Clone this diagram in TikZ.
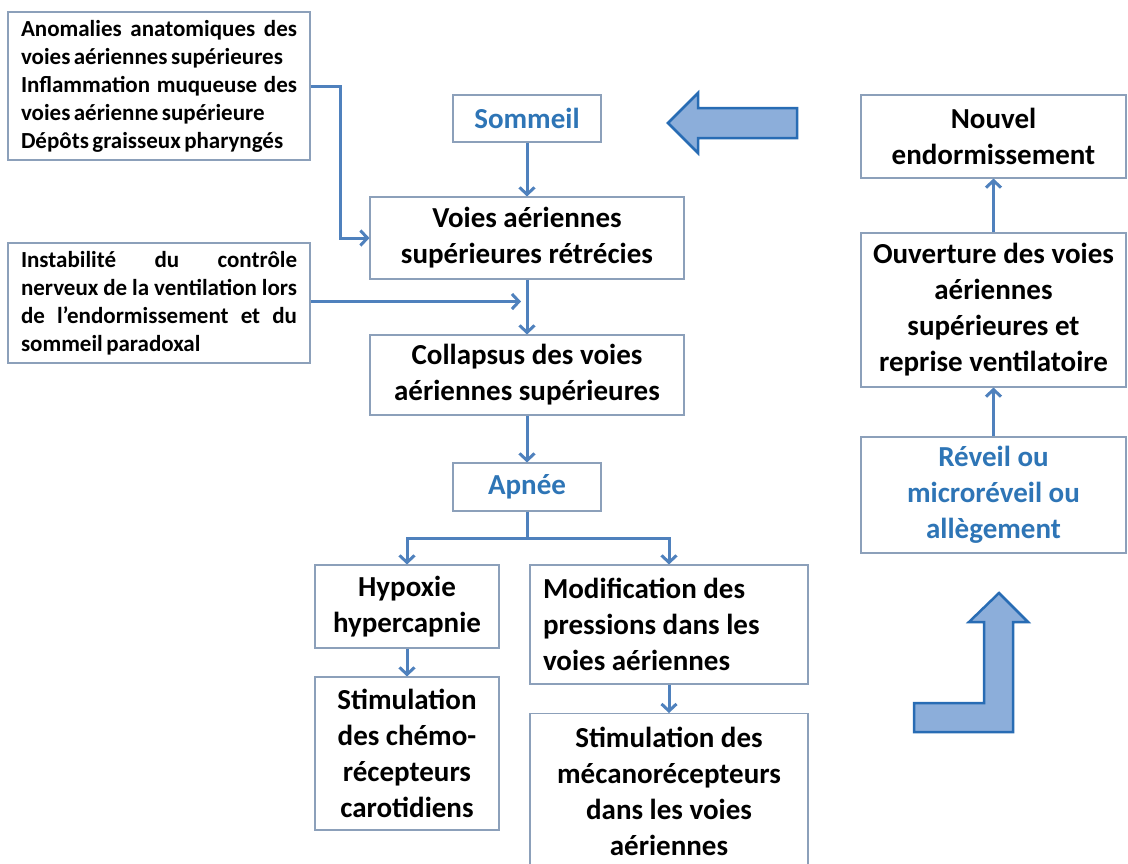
\documentclass[tikz,border=0pt]{standalone}
\usepackage{fontspec}
\setmainfont{Carlito}
\usepackage{xcolor}
\usetikzlibrary{arrows.meta, calc, positioning}
\definecolor{linkblue}{RGB}{79,129,189}
\definecolor{textblue}{RGB}{46,117,182}
\definecolor{boxgray}{RGB}{140,160,186}
\definecolor{blockfill}{RGB}{140,174,218}
\definecolor{blockedge}{RGB}{40,108,180}
\newcommand{\sidefont}{\bfseries\fontsize{23}{28}\selectfont\spaceskip=0.15em plus 3em minus 0.05em\relax}

\begin{document}
\begin{tikzpicture}[x=1pt, y=-1pt,
    box/.style={draw=boxgray, line width=1.1pt, align=center, inner sep=0pt, font=\bfseries\fontsize{29}{36}\selectfont},
    sidebox/.style={draw=boxgray, line width=1.1pt, text width=276pt, align=justify, inner xsep=13pt, inner ysep=0pt, font=\sidefont},
    link/.style={draw=linkblue, line width=3pt, -{Straight Barb[length=7pt,width=15pt]}},
    bigarrow/.style={fill=blockfill, draw=blockedge, line width=2.5pt, line join=miter}]
        \clip (0,0) rectangle (1128,863);
        \fill[white] (0,0) rectangle (1128,863);

        % causes
        \node[sidebox, minimum height=148pt] (anom) at (159,86) {Anomalies anatomiques des\linebreak voies aériennes supérieures\newline Inflammation muqueuse des\linebreak voies aérienne supérieure\newline Dépôts graisseux pharyngés};
        \node[sidebox, minimum height=120pt] (instab) at (159,303) {Instabilité du contrôle\linebreak nerveux de la ventilation lors\linebreak de l’endormissement et du\linebreak sommeil paradoxal};

        % central chain
        \node[box, text=textblue, minimum width=148pt, minimum height=47pt] (somm) at (527,118.5) {Sommeil};
        \node[box, minimum width=314pt, minimum height=82pt] (voies) at (527,238) {Voies aériennes\\supérieures rétrécies};
        \node[box, minimum width=314pt, minimum height=80pt] (coll) at (527,375) {Collapsus des voies\\aériennes supérieures};
        \node[box, text=textblue, minimum width=148pt, minimum height=48pt] (apnee) at (527,487) {Apnée};
        \node[box, minimum width=184pt, minimum height=83pt] (hypox) at (407,606.5) {Hypoxie\\hypercapnie};
        \node[box, minimum width=184pt, minimum height=153pt] (chemo) at (407,753.5) {Stimulation\\des chémo-\\récepteurs\\carotidiens};
        \node[box, text width=252pt, align=flush left, inner xsep=13pt, minimum height=119pt] (modif) at (669,624.5) {Modification des\\pressions dans les\\voies aériennes};
        \node[box, minimum width=278pt, minimum height=156pt, anchor=north] (meca) at (669,713) {Stimulation des\\mécanorécepteurs\\dans les voies\\aériennes};

        % awakening
        \node[box, minimum width=265pt, minimum height=83pt] (nouv) at (993.5,136.5) {Nouvel\\endormissement};
        \node[box, minimum width=265pt, minimum height=154pt] (ouvr) at (993.5,310) {Ouverture des voies\\aériennes\\supérieures et\\reprise ventilatoire};
        \node[box, text=textblue, minimum width=265pt, minimum height=116pt] (rev) at (993.5,495) {Réveil ou\\microréveil ou\\allègement};

        \coordinate (join) at ($(voies.south)!0.4!(coll.north) + (-6,0)$);

        \draw[link] (anom.east) -- ++(30,0) |- (voies.west);
        \draw[link] (instab.east |- join) -- (join);
        \draw[link] (somm) -- (voies);
        \draw[link] (voies) -- (coll);
        \draw[link] (coll) -- (apnee);
        \draw[link] (apnee.south) -- ++(0,27) -| (hypox.north);
        \draw[link] (apnee.south) -- ++(0,27) -| (modif.north);
        \draw[link] (hypox) -- (chemo);
        \draw[link] (modif) -- (meca);
        \draw[link] (rev) -- (ouvr);
        \draw[link] (ouvr) -- (nouv);

        % block arrows
        \draw[bigarrow] (668,123) -- (698,93) -- (698,108) -- (797,108) -- (797,138) -- (698,138) -- (698,153) -- cycle;
        \draw[bigarrow] (914,703) -- (984,703) -- (984,622) -- (969,622) -- (999,593) -- (1028,622) -- (1013,622) -- (1013,732) -- (914,732) -- cycle;
    \end{tikzpicture}
\end{document}
